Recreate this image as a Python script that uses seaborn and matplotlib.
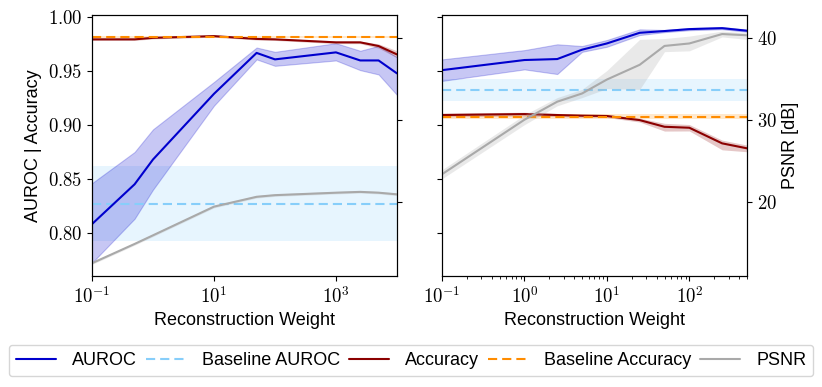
import numpy as np
import matplotlib
matplotlib.use("Agg")
import matplotlib.pyplot as plt
import seaborn as sns
from matplotlib.ticker import FuncFormatter, FixedLocator, NullLocator, LogLocator

sns.set_style("ticks")
plt.rcParams["font.family"] = ["Liberation Sans", "DejaVu Sans"]
plt.rcParams["mathtext.fontset"] = "cm"
# 文字和坐标轴用纯黑
plt.rcParams["text.color"] = "black"
plt.rcParams["axes.labelcolor"] = "black"
plt.rcParams["xtick.color"] = "black"
plt.rcParams["ytick.color"] = "black"
plt.rcParams["axes.edgecolor"] = "black"

# ---- left panel data ----
w_left = [0.1, 0.5, 1, 10, 50, 100, 1000, 2500, 5000, 10000]
auroc_left = [0.808, 0.845, 0.868, 0.929, 0.967, 0.961, 0.9675, 0.960, 0.960, 0.948]
auroc_left_lo = [0.772, 0.813, 0.840, 0.918, 0.961, 0.955, 0.960, 0.951, 0.947, 0.928]
auroc_left_hi = [0.846, 0.875, 0.896, 0.940, 0.972, 0.968, 0.976, 0.969, 0.9735, 0.963]
acc_left = [0.9796, 0.9796, 0.981, 0.9826, 0.980, 0.9796, 0.9768, 0.9768, 0.9734, 0.9656]
acc_left_lo = [0.9786, 0.9786, 0.980, 0.9816, 0.979, 0.9786, 0.9756, 0.9756, 0.9714, 0.9626]
acc_left_hi = [0.9806, 0.9806, 0.982, 0.9836, 0.981, 0.9806, 0.9780, 0.9780, 0.9754, 0.9690]
psnr_left = [12.5, 14.85, 15.9, 19.4, 20.6, 20.8, 21.1, 21.2, 21.1, 20.9]
psnr_left_lo = [12.35, 14.7, 15.75, 19.25, 20.45, 20.65, 20.95, 21.05, 20.95, 20.75]
psnr_left_hi = [12.65, 15.0, 16.05, 19.55, 20.75, 20.95, 21.25, 21.35, 21.25, 21.05]
base_auroc_left = 0.827
base_auroc_left_band = (0.7926, 0.862)
base_acc_left = 0.9814
base_acc_left_band = (0.9804, 0.9824)

# ---- right panel data ----
w_right = [0.1, 1, 2.5, 5, 10, 25, 50, 100, 250, 500]
auroc_right = [0.951, 0.9604, 0.9613, 0.970, 0.9758, 0.9857, 0.9873, 0.9891, 0.990, 0.9876]
auroc_right_lo = [0.941, 0.9517, 0.9474, 0.968, 0.9727, 0.9836, 0.9863, 0.9881, 0.989, 0.9866]
auroc_right_hi = [0.961, 0.9696, 0.975, 0.9734, 0.979, 0.9889, 0.9883, 0.9901, 0.991, 0.9886]
acc_right = [0.9093, 0.9102, 0.9093, 0.9087, 0.9084, 0.9046, 0.8984, 0.8975, 0.883, 0.8784]
acc_right_lo = [0.9075, 0.9085, 0.9078, 0.9072, 0.9070, 0.9028, 0.8944, 0.8945, 0.877, 0.8752]
acc_right_hi = [0.9111, 0.9119, 0.9108, 0.9102, 0.9098, 0.9064, 0.9016, 0.9005, 0.886, 0.8814]
psnr_right = [23.35, 30.0, 32.2, 33.2, 34.9, 36.7, 39.0, 39.3, 40.45, 40.3]
psnr_right_lo = [22.8, 29.4, 31.7, 32.7, 33.8, 33.7, 38.3, 38.4, 40.1, 39.8]
psnr_right_hi = [23.9, 30.6, 32.7, 33.7, 36.0, 39.8, 39.9, 40.2, 40.8, 40.6]
base_auroc_right = 0.9325
base_auroc_right_band = (0.9223, 0.9427)
base_acc_right = 0.9077
base_acc_right_band = (0.9052, 0.9102)

# axis settings
auroc_ylim = (0.7598, 1.0022)
psnr_ylim = (10.94, 42.77)
auroc_ticks = [0.80, 0.85, 0.90, 0.95, 1.00]
psnr_ticks = [20, 30, 40]
left_xticks = [1e-1, 1e1, 1e3]
right_xticks = [1e-1, 1e0, 1e1, 1e2]

C_AUROC = "mediumblue"
C_BASE_AUROC = "lightskyblue"
C_ACC = "darkred"
C_BASE_ACC = "darkorange"
C_PSNR = "darkgray"
FS = 13
DASH = (4.4, 2.4)

fmt_y = FuncFormatter(lambda v, p: f"${v:.2f}$")
fmt_p = FuncFormatter(lambda v, p: f"${v:.0f}$")
fmt_x = FuncFormatter(lambda v, p: f"$10^{{{int(round(np.log10(v)))}}}$")


def draw_panel(ax, w, auroc, a_lo, a_hi, acc, c_lo, c_hi, psnr, p_lo, p_hi,
               b_auroc, b_auroc_band, b_acc, b_acc_band):
    # 基线区间 + AUROC
    ax.axhspan(*b_auroc_band, color=C_BASE_AUROC, alpha=0.2, lw=0)
    ax.fill_between(w, a_lo, a_hi, color=C_AUROC, alpha=0.22, lw=0.8)
    ax.axhline(b_auroc, color=C_BASE_AUROC, lw=1.5, dashes=DASH)
    sns.lineplot(x=w, y=auroc, ax=ax, color=C_AUROC, lw=1.5)
    # Accuracy
    ax.fill_between(w, c_lo, c_hi, color=C_ACC, alpha=0.22, lw=0)
    sns.lineplot(x=w, y=acc, ax=ax, color=C_ACC, lw=1.5)
    ax.axhspan(*b_acc_band, color=C_BASE_ACC, alpha=0.2, lw=0)
    ax.axhline(b_acc, color=C_BASE_ACC, lw=1.5, dashes=DASH)
    ax.set_xscale("log")
    ax.set_xlim(w[0], w[-1])
    ax.set_ylim(*auroc_ylim)
    ax.yaxis.set_major_locator(FixedLocator(auroc_ticks))
    ax.yaxis.set_major_formatter(fmt_y)
    ax.xaxis.set_major_formatter(fmt_x)
    ax.set_xlabel("Reconstruction Weight", fontsize=FS)
    ax.tick_params(labelsize=FS + 0.5)

    # PSNR 用右侧副轴
    ax2 = ax.twinx()
    ax2.fill_between(w, p_lo, p_hi, color=C_PSNR, alpha=0.25, lw=0)
    sns.lineplot(x=w, y=psnr, ax=ax2, color=C_PSNR, lw=1.5)
    ax2.set_ylim(*psnr_ylim)
    ax2.yaxis.set_major_locator(FixedLocator(psnr_ticks))
    ax2.yaxis.set_major_formatter(fmt_p)
    ax2.tick_params(labelsize=FS + 0.5)
    ax2.set_ylabel("")
    return ax2


fig = plt.figure(figsize=(8.22, 3.87), dpi=100)
ax_l = fig.add_axes([0.1119, 0.2868, 0.371, 0.6744])
ax_r = fig.add_axes([0.5377, 0.2868, 0.371, 0.6744])

tw_l = draw_panel(ax_l, w_left, auroc_left, auroc_left_lo, auroc_left_hi,
                  acc_left, acc_left_lo, acc_left_hi,
                  psnr_left, psnr_left_lo, psnr_left_hi,
                  base_auroc_left, base_auroc_left_band, base_acc_left, base_acc_left_band)
tw_r = draw_panel(ax_r, w_right, auroc_right, auroc_right_lo, auroc_right_hi,
                  acc_right, acc_right_lo, acc_right_hi,
                  psnr_right, psnr_right_lo, psnr_right_hi,
                  base_auroc_right, base_auroc_right_band, base_acc_right, base_acc_right_band)

ax_l.xaxis.set_major_locator(FixedLocator(left_xticks))
ax_l.xaxis.set_minor_locator(NullLocator())
ax_r.xaxis.set_major_locator(FixedLocator(right_xticks))
ax_r.xaxis.set_minor_locator(LogLocator(base=10, subs=np.arange(2, 10)))

ax_l.set_ylabel("AUROC | Accuracy", fontsize=FS)
ax_r.set_ylabel("")
ax_r.tick_params(axis="y", labelleft=False)
tw_l.tick_params(axis="y", labelright=False)
tw_r.set_ylabel("PSNR [dB]", fontsize=FS)

handles = [
    plt.Line2D([], [], color=C_AUROC, lw=1.5),
    plt.Line2D([], [], color=C_BASE_AUROC, lw=1.5, dashes=DASH),
    plt.Line2D([], [], color=C_ACC, lw=1.5),
    plt.Line2D([], [], color=C_BASE_ACC, lw=1.5, dashes=DASH),
    plt.Line2D([], [], color=C_PSNR, lw=1.5),
]
labels = ["AUROC", "Baseline AUROC", "Accuracy", "Baseline Accuracy", "PSNR"]
fig.legend(handles, labels, loc="lower center", bbox_to_anchor=(0.5, 0.028),
           ncol=5, fontsize=FS, handlelength=2.2, handletextpad=0.9,
           columnspacing=0.5, borderaxespad=0)

fig.savefig("out.png", dpi=100)
